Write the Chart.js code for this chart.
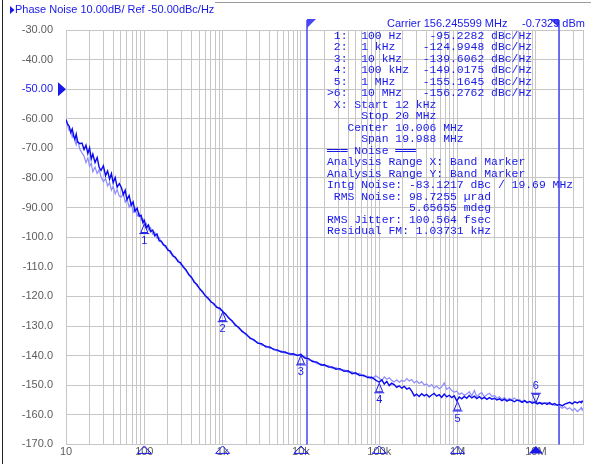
<!DOCTYPE html>
<html>
<head>
<meta charset="utf-8">
<script src="https://cdn.jsdelivr.net/npm/chart.js@4.4.0/dist/chart.umd.min.js"></script>
<style>
body { margin: 0; background: #fff; }
canvas { display: block; }
</style>
</head>
<body>
<canvas id="pn" width="591" height="464"></canvas>
<script>
// offset frequency (Hz)
const freqHz = [
  10, 10.5, 11, 11.5, 12, 12.5, 13, 13.5, 14, 15,
  16, 17, 18, 19, 20, 21, 22, 23.5, 25, 26.5,
  28, 30, 32, 34, 36, 38, 40, 42.5, 45, 48,
  51, 54, 57, 60, 64, 68, 72, 76, 81, 86,
  91, 96, 100, 106, 113, 120, 128, 136, 145, 155,
  165, 175, 187, 200, 215, 230, 250, 270, 290, 315,
  340, 370, 400, 435, 470, 510, 555, 600, 650, 710,
  770, 840, 920, 1000, 1100, 1200, 1320, 1450, 1600, 1780,
  2000, 2250, 2500, 2800, 3150, 3550, 4000, 4500, 5000, 5600,
  6300, 7100, 8000, 9000, 10000, 11200, 12500, 14000, 16000, 18000,
  20000, 22500, 25000, 28000, 31500, 35500, 40000, 45000, 50000, 56000,
  63000, 71000, 80000, 90000, 100000, 108000, 116000, 125000, 134000, 144000,
  155000, 167000, 180000, 194000, 209000, 225000, 242000, 260000, 280000, 300000,
  323000, 348000, 375000, 403000, 434000, 467000, 503000, 541000, 582000, 627000,
  675000, 727000, 783000, 843000, 907000, 977000, 1050000, 1130000, 1220000, 1310000,
  1410000, 1520000, 1640000, 1760000, 1900000, 2040000, 2200000, 2370000, 2550000, 2750000,
  2960000, 3180000, 3430000, 3690000, 3970000, 4280000, 4610000, 4960000, 5340000, 5750000,
  6190000, 6670000, 7180000, 7730000, 8320000, 8960000, 9650000, 10400000, 11200000, 12000000,
  12900000, 13900000, 15000000, 16200000, 17400000, 18700000, 20200000, 21700000, 23400000, 25200000,
  27100000, 29200000, 31400000, 33800000, 36400000, 38000000, 39000000, 40000000
];

// live trace (dBc/Hz)
const liveDb = [
  -60.2, -61.8, -62.5, -64.6, -63.4, -65.8, -66.9, -65.2, -67.8, -68.4,
  -68.2, -70.4, -68.9, -71.7, -69.8, -73.6, -71.9, -74.8, -73.1, -76.4,
  -77.4, -75.9, -79.2, -77.6, -80.4, -78.5, -81.6, -79.8, -83.1, -81.9,
  -83.2, -85.6, -84.1, -87.3, -85.9, -89.2, -88.1, -91.3, -90.2, -92.9,
  -92.6, -95.1, -94.3, -96.8, -95.9, -98.1, -97.6, -99.5, -98.9, -101.2,
  -101.3, -102.6, -102.9, -104.4, -104.7, -106.3, -106.8, -108.3, -108.6, -110.2,
  -111.0, -112.7, -113.5, -115.2, -116.0, -117.5, -118.4, -119.8, -120.5, -121.9,
  -122.4, -123.7, -124.0, -125.1, -126.0, -127.4, -128.2, -129.7, -130.4, -131.9,
  -132.7, -134.2, -134.6, -135.8, -136.0, -137.0, -137.1, -138.0, -138.1, -138.8,
  -138.8, -139.5, -139.4, -140.0, -139.6, -140.8, -141.0, -142.0, -142.2, -143.2,
  -143.1, -143.9, -143.8, -144.6, -144.4, -145.3, -145.1, -146.1, -145.8, -146.7,
  -146.6, -147.4, -147.3, -148.3, -149.0, -148.2, -149.6, -148.7, -150.1, -149.3,
  -149.8, -150.7, -150.2, -151.0, -150.4, -151.3, -150.9, -152.0, -153.6, -153.0,
  -153.8, -152.9, -153.6, -153.1, -154.0, -153.3, -152.8, -153.7, -153.2, -154.1,
  -153.0, -153.9, -153.4, -154.2, -153.6, -155.3, -154.0, -154.6, -153.8, -154.4,
  -153.5, -154.3, -153.7, -154.5, -153.9, -154.6, -154.1, -154.8, -154.2, -154.7,
  -154.4, -155.0, -154.6, -155.2, -154.7, -155.4, -154.9, -155.1, -155.6, -155.0,
  -155.3, -155.8, -155.2, -155.9, -155.5, -156.1, -155.7, -156.3, -155.9, -156.4,
  -156.0, -156.5, -155.9, -156.6, -156.2, -156.8, -156.5, -157.0, -156.4, -156.1,
  -155.8, -156.3, -155.6, -156.0, -155.5, -155.9, -155.4, -155.7
];

// memory trace (dBc/Hz)
const memoryDb = [
  -60.8, -62.4, -64.0, -63.8, -66.1, -64.9, -67.5, -68.8, -66.9, -70.2,
  -71.5, -72.6, -74.8, -73.2, -76.1, -75.0, -77.9, -76.3, -78.5, -77.2,
  -79.6, -81.3, -80.2, -82.7, -81.5, -84.1, -82.8, -85.3, -83.9, -86.2,
  -86.4, -85.1, -88.2, -87.0, -89.8, -88.4, -91.5, -90.1, -92.8, -91.9,
  -94.2, -93.8, -95.9, -95.4, -97.5, -96.8, -99.0, -98.3, -100.4, -100.1,
  -101.8, -102.1, -103.6, -103.8, -105.4, -105.7, -107.3, -107.7, -109.2, -109.6,
  -111.4, -112.3, -113.9, -114.8, -116.4, -117.2, -118.8, -119.5, -120.9, -121.5,
  -122.8, -123.3, -124.5, -124.8, -126.4, -127.0, -128.6, -129.3, -130.8, -131.5,
  -133.1, -133.8, -135.0, -135.4, -136.5, -136.6, -137.6, -137.6, -138.5, -138.4,
  -139.2, -139.1, -139.8, -139.6, -140.2, -140.4, -141.5, -141.6, -142.7, -142.8,
  -143.5, -143.4, -144.3, -144.1, -144.9, -144.7, -145.7, -145.4, -146.4, -146.0,
  -147.1, -146.9, -147.9, -146.8, -147.6, -148.4, -147.2, -148.0, -147.5, -148.3,
  -148.9, -148.2, -149.0, -148.4, -148.7, -147.8, -148.6, -148.1, -149.2, -148.5,
  -149.4, -148.8, -149.9, -149.6, -150.5, -149.8, -150.9, -150.3, -151.2, -150.6,
  -149.2, -151.4, -150.7, -151.8, -152.3, -152.0, -153.1, -152.6, -153.4, -153.0,
  -152.2, -153.6, -151.8, -153.9, -153.0, -152.5, -154.0, -153.2, -152.7, -153.8,
  -153.5, -154.4, -153.9, -154.8, -154.2, -155.0, -154.5, -154.9, -154.3, -155.2,
  -154.9, -155.5, -155.1, -155.8, -155.6, -155.4, -156.0, -155.7, -156.2, -155.9,
  -156.1, -155.8, -156.5, -156.3, -156.9, -156.6, -157.2, -157.8, -157.3, -158.1,
  -157.6, -158.6, -157.9, -158.9, -158.2, -157.5, -158.4, -157.8
];

// markers
const markerHz = [100, 1e3, 1e4, 1e5, 1e6, 1e7];
const markerDb = [-95.2282, -124.9948, -139.6062, -149.0175, -155.1645, -156.2762];
const markerNames = ['1', '2', '3', '4', '5', '6'];
const activeMarker = 5;

// band markers (integration range)
const bandHz = [12e3, 20e6];

// axis ticks
const xTickValues = [10, 100, 1e3, 1e4, 1e5, 1e6, 1e7];
const xTickLabels = ['10', '100', '1k', '10k', '100k', '1M', '10M'];
const xMin = 10, xMax = 4e7;
const yMin = -170, yMax = -30, yStep = 10;
const refLevel = -50;

const titleText = 'Phase Noise 10.00dB/ Ref -50.00dBc/Hz';
const carrierText = 'Carrier 156.245599 MHz';
const powerText = '-0.7329 dBm';
const readout = [
  ' 1:  100 Hz    -95.2282 dBc/Hz',
  ' 2:  1 kHz    -124.9948 dBc/Hz',
  ' 3:  10 kHz   -139.6062 dBc/Hz',
  ' 4:  100 kHz  -149.0175 dBc/Hz',
  ' 5:  1 MHz    -155.1645 dBc/Hz',
  '>6:  10 MHz   -156.2762 dBc/Hz',
  ' X: Start 12 kHz',
  '     Stop 20 MHz',
  '   Center 10.006 MHz',
  '     Span 19.988 MHz',
  '\u2550\u2550\u2550 Noise \u2550\u2550\u2550',
  'Analysis Range X: Band Marker',
  'Analysis Range Y: Band Marker',
  'Intg Noise: -83.1217 dBc / 19.69 MHz',
  ' RMS Noise: 98.7255 \u00b5rad',
  '            5.65655 mdeg',
  'RMS Jitter: 100.564 fsec',
  'Residual FM: 1.03731 kHz'
];

const blue = '#1818e8';
const gray = '#5c5c5c';
const gridGray = '#c6c6c6';
const bandBlue = '#4646f4';

// grid lines: 1..9 per decade
var gridTicks = [];
for (var d = 10; d < xMax; d *= 10) {
  for (var m = 1; m <= 9; m++) {
    if (d * m <= xMax) gridTicks.push(d * m);
  }
}

const pnPlugin = {
  id: 'pnPlugin',
  beforeDatasetsDraw(chart) {
    const ctx = chart.ctx, xs = chart.scales.x, area = chart.chartArea;
    ctx.save();
    ctx.strokeStyle = bandBlue;
    ctx.fillStyle = bandBlue;
    ctx.lineWidth = 1.5;
    bandHz.forEach((f, i) => {
      const px = Math.round(xs.getPixelForValue(f));
      ctx.beginPath();
      ctx.moveTo(px, 20);
      ctx.lineTo(px, area.bottom);
      ctx.stroke();
      const d = i === 0 ? 9 : -9;
      ctx.beginPath();
      ctx.moveTo(px, 19);
      ctx.lineTo(px + d, 19);
      ctx.lineTo(px, 28);
      ctx.closePath();
      ctx.fill();
    });
    ctx.restore();
  },
  afterDraw(chart) {
    const ctx = chart.ctx, xs = chart.scales.x, ys = chart.scales.y, area = chart.chartArea;
    ctx.save();

    // window frame
    ctx.lineWidth = 1;
    ctx.strokeStyle = '#222';
    ctx.beginPath(); ctx.moveTo(2.5, 0); ctx.lineTo(2.5, 464); ctx.stroke();
    ctx.strokeStyle = '#9a9a9a';
    ctx.beginPath(); ctx.moveTo(215, 2.5); ctx.lineTo(591, 2.5); ctx.stroke();

    // title
    ctx.fillStyle = blue;
    ctx.beginPath();
    ctx.moveTo(10, 6); ctx.lineTo(10, 14); ctx.lineTo(14.5, 10); ctx.closePath();
    ctx.fill();
    ctx.font = '11px "Liberation Sans", Arial, sans-serif';
    ctx.textBaseline = 'middle';
    ctx.textAlign = 'left';
    ctx.fillText(titleText, 15, 10);
    ctx.fillText(carrierText, 387, 24);
    ctx.fillText(powerText, 522, 24);

    // reference level arrow
    const ry = ys.getPixelForValue(refLevel);
    ctx.beginPath();
    ctx.moveTo(58, ry - 7); ctx.lineTo(58, ry + 7); ctx.lineTo(66, ry); ctx.closePath();
    ctx.fill();

    // readout block
    ctx.font = '11.4px "Liberation Mono", "DejaVu Sans Mono", monospace';
    readout.forEach((line, i) => {
      ctx.fillText(line, 327, 35.5 + i * 11.5);
    });

    // markers
    ctx.font = '11px "Liberation Sans", Arial, sans-serif';
    ctx.textAlign = 'center';
    ctx.lineWidth = 1;
    ctx.strokeStyle = blue;
    markerHz.forEach((f, i) => {
      const px = xs.getPixelForValue(f);
      const py = ys.getPixelForValue(markerDb[i]);
      const s = i === activeMarker ? -1 : 1;
      ctx.beginPath();
      ctx.moveTo(px, py + s * 1);
      ctx.lineTo(px - 3.5, py + s * 9.5);
      ctx.lineTo(px + 3.5, py + s * 9.5);
      ctx.closePath();
      ctx.stroke();
      ctx.beginPath();
      ctx.moveTo(px - 5, py + s * 10.5);
      ctx.lineTo(px + 5, py + s * 10.5);
      ctx.stroke();
      ctx.fillText(markerNames[i], px, py + s * 18);

      // marker flag on the frequency axis
      const by = area.bottom;
      ctx.beginPath();
      ctx.moveTo(px, by + 1.5);
      ctx.lineTo(px - 7, by + 9);
      ctx.lineTo(px + 7, by + 9);
      ctx.closePath();
      if (i === activeMarker) ctx.fill(); else ctx.stroke();
    });
    ctx.restore();
  }
};

Chart.defaults.font.family = '"Liberation Sans", Arial, sans-serif';
Chart.defaults.font.size = 11;

new Chart(document.getElementById('pn'), {
  type: 'line',
  data: {
    datasets: [
      {
        label: 'Live',
        data: freqHz.map((f, i) => ({ x: f, y: liveDb[i] })),
        borderColor: '#0a0af0',
        borderWidth: 1.4,
        pointRadius: 0,
        tension: 0
      },
      {
        label: 'Memory',
        data: freqHz.map((f, i) => ({ x: f, y: memoryDb[i] })),
        borderColor: '#8c8cff',
        borderWidth: 1.2,
        pointRadius: 0,
        tension: 0
      }
    ]
  },
  options: {
    responsive: false,
    animation: false,
    devicePixelRatio: 1,
    layout: { padding: { left: 0, top: 30, right: 8, bottom: 0 } },
    plugins: { legend: { display: false }, tooltip: { enabled: false } },
    scales: {
      x: {
        type: 'logarithmic',
        min: xMin,
        max: xMax,
        afterBuildTicks: (scale) => {
          scale.ticks = gridTicks.map(v => ({ value: v }));
        },
        afterFit: (scale) => { scale.height = 13; },
        grid: { color: gridGray, lineWidth: 1, drawTicks: false },
        border: { color: gridGray },
        ticks: {
          autoSkip: false,
          maxRotation: 0,
          padding: 1,
          color: gray,
          callback: (value) => {
            const k = xTickValues.indexOf(value);
            return k >= 0 ? xTickLabels[k] : '';
          }
        }
      },
      y: {
        min: yMin,
        max: yMax,
        afterFit: (scale) => { scale.width = 66; },
        grid: { color: gridGray, lineWidth: 1, drawTicks: false },
        border: { color: gridGray },
        ticks: {
          stepSize: yStep,
          padding: 13,
          color: (c) => (c.tick && c.tick.value === refLevel ? blue : gray),
          callback: (v) => (v > -100 ? v.toFixed(2) : v.toFixed(1))
        }
      }
    }
  },
  plugins: [pnPlugin]
});
</script>
</body>
</html>
